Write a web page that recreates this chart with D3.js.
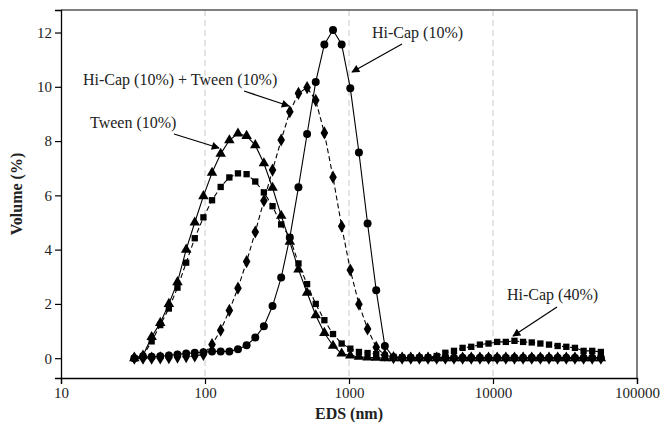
<!DOCTYPE html>
<html>
<head>
<meta charset="utf-8">
<script src="https://cdn.jsdelivr.net/npm/d3@7/dist/d3.min.js"></script>
<style>
body { margin: 0; background: #fff; }
svg text { font-family: "Liberation Serif", "Times New Roman", serif; fill: #222; }
</style>
</head>
<body>
<script>
// particle size classes (nm)
var sizes = [32.3, 37.1, 42.6, 48.9, 56.1, 64.4, 74.0, 84.9, 97.5, 111.9,
    128.5, 147.6, 169.4, 194.5, 223.4, 256.4, 294.4, 338.1, 388.2, 445.7,
    511.7, 587.5, 674.5, 774.5, 889.2, 1020.9, 1172.2, 1345.9, 1545.3, 1774.2,
    2037.0, 2338.8, 2685.3, 3083.1, 3539.9, 4064.4, 4666.5, 5357.9, 6151.8, 7063.2,
    8109.6, 9311.1, 10690.6, 12274.5, 14093.0, 16181.0, 18578.4, 21330.9, 24491.3, 28119.9,
    32286.2, 37069.6, 42561.8, 48867.6, 56105.5];

// Hi-Cap (10%) - circles
var hiCap10 = [0, 0.05, 0.05, 0.07, 0.1, 0.14, 0.17, 0.2, 0.22, 0.25,
    0.25, 0.25, 0.33, 0.48, 0.76, 1.18, 1.92, 2.97, 4.45, 6.3,
    8.26, 10.18, 11.56, 12.09, 11.56, 9.95, 7.58, 4.96, 2.5, 0.45,
    0.03, 0.02, 0.02, 0.02, 0.02, 0.02, 0.02, 0.02, 0.02, 0.02,
    0.02, 0.02, 0.02, 0.02, 0.02, 0.02, 0.02, 0.02, 0.02, 0.02,
    0.02, 0.02, 0.02, 0.02, 0.02];

// Hi-Cap (10%) + Tween (10%) - diamonds
var hiCapTween = [0, 0, 0, 0.01, 0.02, 0.04, 0.06, 0.08, 0.14, 0.5,
    1.03, 1.76, 2.58, 3.56, 4.65, 5.8, 6.93, 8.04, 9.08, 9.76,
    9.97, 9.5, 8.3, 6.67, 4.86, 3.25, 1.99, 1.08, 0.4, 0.11,
    0.02, 0, 0, 0, 0, 0, 0, 0, 0, 0,
    0, 0, 0, 0, 0, 0, 0, 0, 0, 0,
    0, 0, 0, 0, 0];

// Tween (10%) - triangles
var tween10 = [0, 0.1, 0.78, 1.3, 2.0, 2.8, 4.0, 5.0, 5.97, 6.83,
    7.53, 8.03, 8.28, 8.19, 7.85, 7.18, 6.28, 5.25, 4.29, 3.27,
    2.41, 1.58, 0.93, 0.46, 0.17, 0.1, 0.05, 0.03, 0.02, 0,
    0, 0, 0, 0, 0, 0, 0, 0, 0, 0,
    0, 0, 0, 0, 0, 0, 0, 0, 0, 0,
    0, 0, 0, 0, 0];

// Hi-Cap (40%) - squares
var hiCap40 = [0, 0.08, 0.62, 1.22, 1.83, 2.6, 3.52, 4.42, 5.19, 5.82,
    6.31, 6.66, 6.81, 6.78, 6.51, 6.11, 5.6, 4.93, 4.45, 3.49,
    2.73, 2.0, 1.4, 0.89, 0.54, 0.35, 0.23, 0.19, 0.15, 0.1,
    0.05, 0.03, 0.02, 0.02, 0.03, 0.08, 0.2, 0.27, 0.38, 0.42,
    0.5, 0.54, 0.6, 0.6, 0.64, 0.6, 0.58, 0.54, 0.5, 0.45,
    0.42, 0.38, 0.27, 0.27, 0.23];

var xTicks = [10, 100, 1000, 10000, 100000];
var yTicks = [0, 2, 4, 6, 8, 10, 12];

var w = 662, h = 424;
var pLeft = 61, pRight = 637, pTop = 10, pBottom = 378;

var svg = d3.select("body").append("svg").attr("width", w).attr("height", h);

var xScale = d3.scaleLog().domain([10, 100000]).range([pLeft, pRight]);
var yScale = d3.scaleLinear().domain([-0.73, 12.83]).range([pBottom, pTop]);

// arrow marker
svg.append("defs").append("marker")
    .attr("id", "arr")
    .attr("viewBox", "0 0 10 10")
    .attr("refX", 9).attr("refY", 5)
    .attr("markerWidth", 12).attr("markerHeight", 8)
    .attr("markerUnits", "userSpaceOnUse")
    .attr("orient", "auto")
    .append("path").attr("d", "M0,0 L10,5 L0,10 Z").attr("fill", "#000");

// dashed grid lines
svg.selectAll("line.grid")
    .data([100, 1000, 10000])
    .enter()
    .append("line")
    .attr("class", "grid")
    .attr("x1", (d) => xScale(d)).attr("x2", (d) => xScale(d))
    .attr("y1", pTop).attr("y2", pBottom)
    .attr("stroke", "#c8c8c8")
    .attr("stroke-width", 1)
    .attr("stroke-dasharray", "6,4");

// frame (top/right)
svg.append("path")
    .attr("d", "M" + pLeft + "," + pTop + " H" + pRight + " V" + pBottom)
    .attr("fill", "none")
    .attr("stroke", "#555")
    .attr("stroke-width", 1.5);

// axes
var xAxis = d3.axisBottom(xScale).tickValues(xTicks).tickFormat(d3.format("d")).tickSizeOuter(0).tickSize(6);
var yAxis = d3.axisLeft(yScale).tickValues(yTicks).tickSizeOuter(0).tickSize(6);

var gx = svg.append("g").attr("transform", "translate(0," + pBottom + ")").call(xAxis);
var gy = svg.append("g").attr("transform", "translate(" + pLeft + ",0)").call(yAxis);

[gx, gy].forEach(function(g) {
    g.select(".domain").attr("stroke", "#000").attr("stroke-width", 1.3);
    g.selectAll(".tick line").attr("stroke", "#000").attr("stroke-width", 1.2);
    g.selectAll(".tick text")
        .attr("font-family", "Liberation Serif, serif")
        .attr("font-size", "15px")
        .attr("fill", "#222");
});

// axis titles
svg.append("text")
    .text("EDS (nm)")
    .attr("x", (pLeft + pRight) / 2)
    .attr("y", 419)
    .attr("text-anchor", "middle")
    .attr("font-weight", "bold")
    .attr("font-size", "16px");

svg.append("text")
    .text("Volume (%)")
    .attr("transform", "translate(22," + ((pTop + pBottom) / 2) + ") rotate(-90)")
    .attr("text-anchor", "middle")
    .attr("font-weight", "bold")
    .attr("font-size", "16px");

// series
var series = [
    { vals: hiCap40, dash: "5,3", sym: d3.symbolSquare, size: 40 },
    { vals: tween10, dash: null, sym: d3.symbolTriangle, size: 48 },
    { vals: hiCapTween, dash: "5,3", sym: d3.symbolDiamond, size: 50 },
    { vals: hiCap10, dash: null, sym: d3.symbolCircle, size: 50 }
];

var line = d3.line()
    .x((d, i) => xScale(sizes[i]))
    .y((d) => yScale(d));

series.forEach(function(s) {
    svg.append("path")
        .datum(s.vals)
        .attr("d", line)
        .attr("fill", "none")
        .attr("stroke", "#000")
        .attr("stroke-width", 1.1)
        .attr("stroke-dasharray", s.dash);

    svg.append("g").selectAll("path")
        .data(s.vals)
        .enter()
        .append("path")
        .attr("d", d3.symbol().type(s.sym).size(s.size))
        .attr("transform", (d, i) => "translate(" + xScale(sizes[i]) + "," + yScale(d) + ")")
        .attr("fill", "#000");
});

// annotations
var notes = [
    { text: "Hi-Cap (10%)", tx: 372, ty: 38, x1: 402, y1: 44, x2: 352, y2: 72 },
    { text: "Hi-Cap (10%) + Tween (10%)", tx: 83, ty: 85, x1: 244, y1: 91, x2: 289, y2: 106 },
    { text: "Tween (10%)", tx: 90, ty: 128, x1: 174, y1: 134, x2: 219, y2: 148 },
    { text: "Hi-Cap (40%)", tx: 507, ty: 300, x1: 557, y1: 307, x2: 513, y2: 336 }
];

svg.selectAll("text.note")
    .data(notes)
    .enter()
    .append("text")
    .attr("class", "note")
    .text((d) => d.text)
    .attr("x", (d) => d.tx)
    .attr("y", (d) => d.ty)
    .attr("font-size", "16px");

svg.selectAll("line.arrow")
    .data(notes)
    .enter()
    .append("line")
    .attr("class", "arrow")
    .attr("x1", (d) => d.x1).attr("y1", (d) => d.y1)
    .attr("x2", (d) => d.x2).attr("y2", (d) => d.y2)
    .attr("stroke", "#000")
    .attr("stroke-width", 1.2)
    .attr("marker-end", "url(#arr)");
</script>
</body>
</html>
